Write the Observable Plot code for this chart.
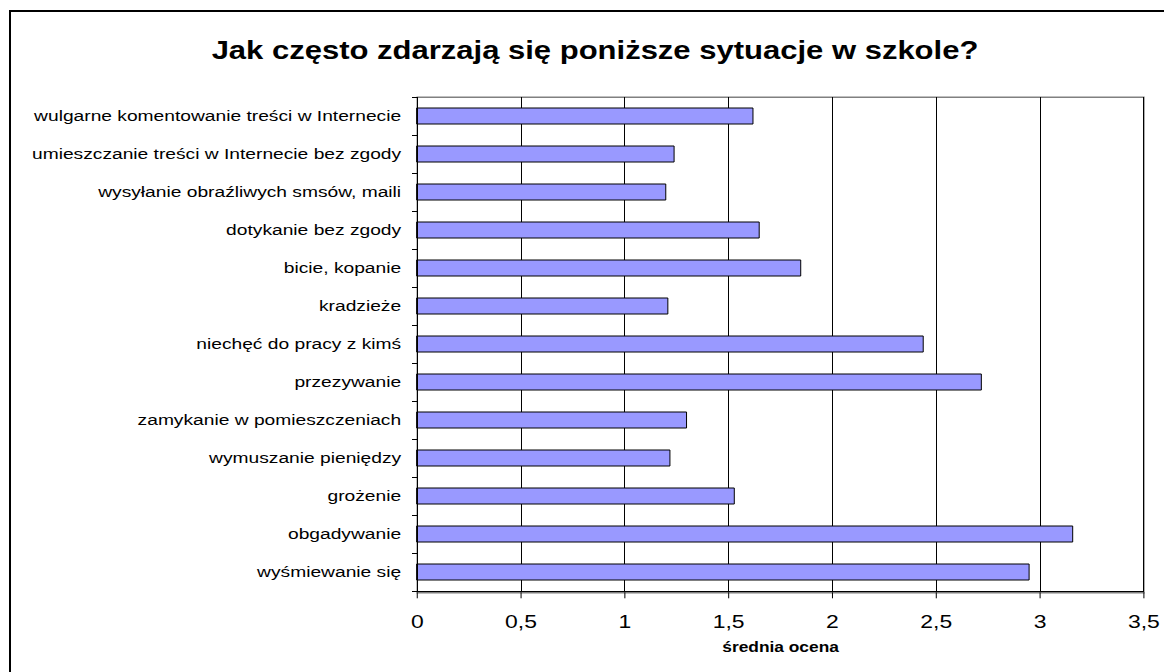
<!DOCTYPE html>
<html>
<head>
<meta charset="utf-8">
<script src="https://cdn.jsdelivr.net/npm/d3@7"></script>
<script src="https://cdn.jsdelivr.net/npm/@observablehq/plot@0.6"></script>
<style>
html, body { margin: 0; padding: 0; background: #fff; }
#wrap { position: relative; width: 1164px; height: 672px; overflow: hidden; background: #fff; font-family: "Liberation Sans", Arial, sans-serif; }
#border { position: absolute; left: 9px; top: 10px; width: 1300px; height: 800px; border: 2px solid #000; }
#title { position: absolute; left: 13px; top: 38px; width: 1164px; text-align: center; font-size: 25px; line-height: 25px; font-weight: bold; color: #000; white-space: nowrap; transform: scaleX(1.24); transform-origin: 50% 50%; }
#chart { position: absolute; left: 0; top: 80px; }
#chart svg line, #chart svg path, #chart svg rect { vector-effect: non-scaling-stroke; }
#chart svg line { shape-rendering: crispEdges; }
</style>
</head>
<body>
<div id="wrap">
  <div id="border"></div>
  <div id="title">Jak często zdarzają się poniższe sytuacje w szkole?</div>
  <div id="chart"></div>
</div>
<script>
// ---- data ----
const categories = [
  "wulgarne komentowanie treści w Internecie",
  "umieszczanie treści w Internecie bez zgody",
  "wysyłanie obraźliwych smsów, maili",
  "dotykanie bez zgody",
  "bicie, kopanie",
  "kradzieże",
  "niechęć do pracy z kimś",
  "przezywanie",
  "zamykanie w pomieszczeniach",
  "wymuszanie pieniędzy",
  "grożenie",
  "obgadywanie",
  "wyśmiewanie się"
];
const values = [1.62, 1.24, 1.20, 1.65, 1.85, 1.21, 2.44, 2.72, 1.30, 1.22, 1.53, 3.16, 2.95];
const xTicks = [0, 0.5, 1, 1.5, 2, 2.5, 3, 3.5];
const xLabel = "średnia ocena";

// ---- layout (the reference is horizontally stretched by ~1.24) ----
const stretch = 1.24;
const outW = 1164, H = 592;
const W = outW / stretch;
const marginLeft = 336, marginRight = W - 922, marginTop = 16.7, marginBottom = 79.7;
const step = (H - marginTop - marginBottom) / categories.length;

const rows = categories.map((c, i) => ({cat: c, val: values[i]}));

const chart = Plot.plot({
  width: W,
  height: H,
  marginLeft, marginRight, marginTop, marginBottom,
  style: {fontFamily: "'Liberation Sans', Arial, sans-serif", background: "transparent", color: "#000", overflow: "visible"},
  x: {domain: [0, 3.5]},
  y: {domain: categories, padding: 0},
  marks: [
    Plot.frame({stroke: "#808080", strokeWidth: 1.5}),
    Plot.ruleX(xTicks.slice(1), {stroke: "#000", strokeWidth: 1}),
    Plot.barX(rows, {x: "val", y: "cat", fill: "#9999ff", stroke: "#000", strokeWidth: 1, insetTop: 11, insetBottom: 11}),
    Plot.ruleX([0], {stroke: "#000"}),
    Plot.ruleY([categories[categories.length - 1]], {y: d => d, x1: 0, x2: 3.5, dy: step / 2, insetLeft: -4, stroke: "#000"}),
    Plot.ruleY(categories, {y: d => d, x1: 0, x2: 0, insetLeft: -4, dy: -step / 2, stroke: "#000"}),
    Plot.axisX({ticks: xTicks, tickSize: 6, tickPadding: 16, fontSize: 18.5, tickFormat: d => String(d).replace(".", ","), label: null}),
    Plot.axisY({tickSize: 0, tickPadding: 13, fontSize: 15.5, label: null}),
    Plot.text([xLabel], {frameAnchor: "bottom", dy: 59, fontWeight: "bold", fontSize: 14, fill: "#000"})
  ]
});

chart.setAttribute("width", outW);
chart.setAttribute("height", H);
chart.setAttribute("preserveAspectRatio", "none");
chart.style.width = outW + "px";
chart.style.height = H + "px";
chart.style.maxWidth = "none";
document.getElementById("chart").appendChild(chart);
</script>
</body>
</html>
